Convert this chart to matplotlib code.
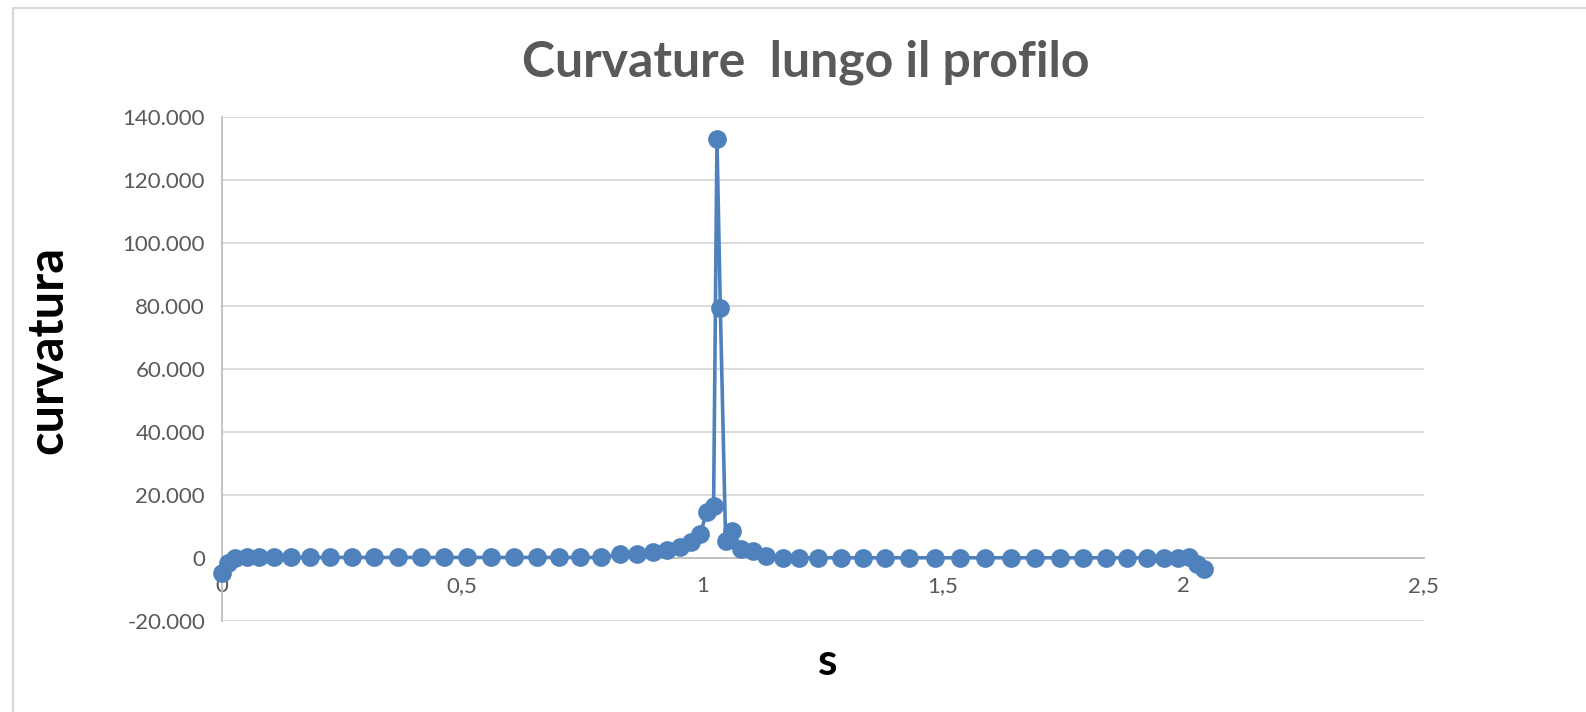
import matplotlib
matplotlib.use("Agg")
import matplotlib.pyplot as plt
from matplotlib.lines import Line2D
from matplotlib.ticker import FuncFormatter, MultipleLocator

# arc length along the profile
s = [0.000, 0.014, 0.028, 0.052, 0.078, 0.109, 0.144, 0.183, 0.226, 0.271,
     0.317, 0.366, 0.415, 0.463, 0.510, 0.560, 0.608, 0.656, 0.701, 0.745,
     0.789, 0.828, 0.863, 0.896, 0.927, 0.953, 0.976, 0.995, 1.009, 1.023,
     1.030, 1.037, 1.048, 1.062, 1.081, 1.105, 1.133, 1.167, 1.201, 1.241,
     1.287, 1.333, 1.380, 1.430, 1.483, 1.535, 1.587, 1.641, 1.691, 1.743,
     1.792, 1.840, 1.882, 1.924, 1.960, 1.988, 2.011, 2.028, 2.042]

# curvature values
curvatura = [-4700, -1600, -100, 100, 100, 100, 100, 100, 100, 100,
             100, 100, 100, 100, 100, 100, 100, 100, 100, 100,
             100, 1200, 1200, 1700, 2400, 3300, 4900, 7500, 14700, 16600,
             133000, 79500, 5400, 8600, 2800, 2000, 600, 0, 0, 0,
             0, 0, 0, 0, 0, 0, 0, 0, 0, 0,
             0, 0, 0, 0, 0, -100, 200, -2000, -3600]

title = "Curvature  lungo il profilo"
xlabel = "s"
ylabel = "curvatura"

plt.rcParams['font.family'] = ['Lato', 'DejaVu Sans']
blue = "#4F81BD"
grey_txt = "#595959"

fig = plt.figure(figsize=(15.86, 7.12), dpi=100)
ax = fig.add_axes([0.1398, 0.1282, 0.8977 - 0.1398, 0.8353 - 0.1282])

ax.plot(s, curvatura, color=blue, lw=2.6, marker='o', ms=13.5,
        markeredgewidth=0, zorder=3, clip_on=False)

ax.set_xlim(0, 2.5)
ax.set_ylim(-20000, 140000)
ax.xaxis.set_major_locator(MultipleLocator(0.5))
ax.yaxis.set_major_locator(MultipleLocator(20000))
ax.xaxis.set_major_formatter(FuncFormatter(lambda v, p: f"{v:g}".replace('.', ',')))
ax.yaxis.set_major_formatter(FuncFormatter(lambda v, p: f"{v:,.0f}".replace(',', '.')))

ax.grid(axis='y', color='#d9d9d9', lw=1.3)
ax.set_axisbelow(True)
for side in ['top', 'right']:
    ax.spines[side].set_visible(False)
ax.spines['bottom'].set_position(('data', 0))
ax.spines['bottom'].set_color('#bfbfbf')
ax.spines['bottom'].set_linewidth(1.3)
ax.spines['left'].set_color('#bfbfbf')
ax.spines['left'].set_linewidth(1.3)
ax.tick_params(axis='both', length=0, labelsize=16, labelcolor=grey_txt)
ax.tick_params(axis='x', pad=13)
ax.tick_params(axis='y', pad=12)

fig.text(0.508, 0.912, title, ha='center', va='center', fontsize=36,
         fontweight='bold', color=grey_txt)
fig.text(0.522, 0.07, xlabel, ha='center', va='center', fontsize=32,
         fontweight='bold', color='black')
fig.text(0.030, 0.508, ylabel, ha='center', va='center', fontsize=35,
         fontweight='bold', color='black', rotation=90)

# chart area border (top and left edges visible)
fig.add_artist(Line2D([12.5 / 1586, 1], [1 - 7.5 / 712] * 2, color='#d9d9d9', lw=1.5))
fig.add_artist(Line2D([12.5 / 1586] * 2, [0, 1 - 7.5 / 712], color='#d9d9d9', lw=1.5))

fig.savefig("out.png", dpi=100)
